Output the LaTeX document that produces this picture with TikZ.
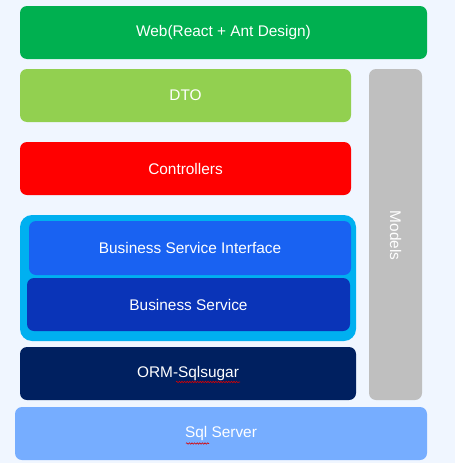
\documentclass[tikz,border=0pt]{standalone}
\usepackage{fontspec}
\setmainfont{Liberation Sans}
\usetikzlibrary{decorations.pathmorphing}
\definecolor{bgc}{HTML}{F0F6FF}
\definecolor{webc}{HTML}{00B050}
\definecolor{dtoc}{HTML}{92D050}
\definecolor{ctlc}{HTML}{FF0000}
\definecolor{cyanc}{HTML}{00B0F0}
\definecolor{bsic}{HTML}{1962F2}
\definecolor{bsc}{HTML}{0A34B8}
\definecolor{ormc}{HTML}{002060}
\definecolor{sqlc}{HTML}{76ADFF}
\definecolor{modc}{HTML}{BFBFBF}
\tikzset{
  layer/.style={rectangle, rounded corners=7pt, inner sep=0pt, text=white,
    font=\fontsize{15.4}{18}\selectfont},
  squiggle/.style={draw=red!85!black, line width=0.6pt,
    decorate, decoration={snake, amplitude=0.7pt, segment length=2.6pt}}
}
\begin{document}
\begin{tikzpicture}[x=1pt,y=-1pt]
\fill[bgc] (0,0) rectangle (455,463);
\useasboundingbox (0,0) rectangle (455,463);
\node[layer, fill=webc, minimum width=407pt, minimum height=53pt] (web) at (223.5,32.5) {Web(React + Ant Design)};
\node[layer, fill=dtoc, minimum width=331pt, minimum height=53pt] (dto) at (185.5,95.5) {DTO};
\node[layer, fill=modc, minimum width=53pt, minimum height=331pt] (models) at (395.5,234.5) {};
\node[layer, rotate=-90] (modelstxt) at (395.5,235.5) {Models};
\node[layer, fill=ctlc, minimum width=331pt, minimum height=53pt] (ctl) at (185.5,168.5) {Controllers};
\node[layer, fill=cyanc, rounded corners=12pt, minimum width=336pt, minimum height=126pt] (outer) at (188,278) {};
\node[layer, fill=bsic, minimum width=322pt, minimum height=54pt] (bsi) at (190,248) {Business Service Interface};
\node[layer, fill=bsc, minimum width=323pt, minimum height=53pt] (bs) at (188.5,304.5) {Business Service};
\node[layer, fill=ormc, minimum width=336pt, minimum height=53pt] (orm) at (188,373.5) {ORM-Sqlsugar};
\node[layer, fill=sqlc, minimum width=412pt, minimum height=53pt] (sql) at (221,433.5) {Sql Server};
\coordinate (s1a) at (176,382);
\coordinate (s1b) at (240,382);
\coordinate (s2a) at (186,443.5);
\coordinate (s2b) at (209,443.5);
\draw[squiggle] (s1a) -- (s1b);
\draw[squiggle] (s2a) -- (s2b);
\end{tikzpicture}
\end{document}
